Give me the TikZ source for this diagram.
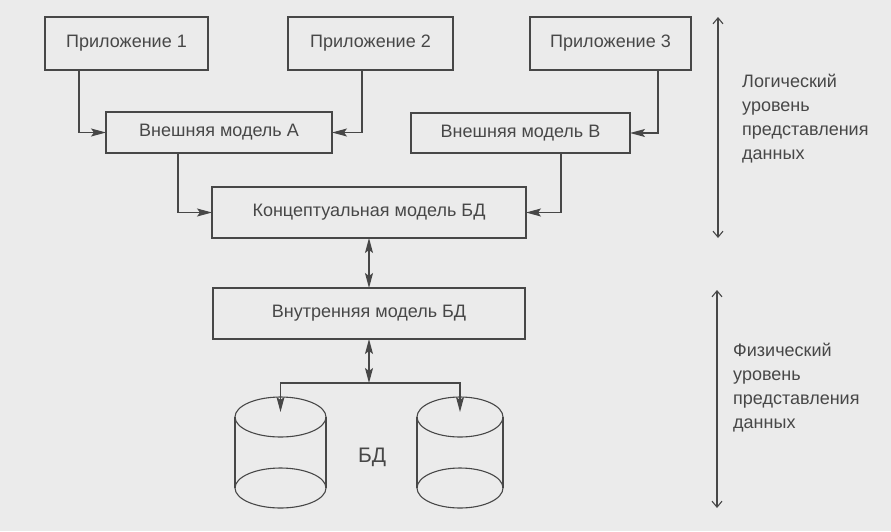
\documentclass[tikz,border=0pt]{standalone}
\usepackage{fontspec}
\setmainfont{Liberation Sans}
\usetikzlibrary{arrows.meta}
\definecolor{paper}{HTML}{EBEBEB}
\definecolor{ink}{HTML}{474747}
\begin{document}
\begin{tikzpicture}[x=1pt,y=-1pt,
    box/.style={draw=ink,line width=1.1pt,inner sep=0pt,outer sep=0pt,text=ink,font=\fontsize{18}{21}\selectfont},
    arr/.style={draw=ink,line width=1.1pt,-{Stealth[length=15pt,width=8pt,inset=3pt]}},
    darr/.style={draw=ink,line width=1.1pt,{Stealth[length=15pt,width=8pt,inset=3pt]}-{Stealth[length=15pt,width=8pt,inset=3pt]}},
    lvl/.style={draw=ink,line width=1.1pt,{Straight Barb[length=6pt,width=10pt]}-{Straight Barb[length=6pt,width=10pt]}},
    note/.style={text=ink,align=left,anchor=west,inner sep=0pt,font=\fontsize{18}{24}\selectfont}]
  \fill[paper] (0,0) rectangle (891,531);
  \draw
    (126.5,43.5) node[box,minimum width=163,minimum height=53] (p1){Приложение 1}
    (370.5,43.5) node[box,minimum width=165,minimum height=53] (p2){Приложение 2}
    (610.5,43.5) node[box,minimum width=161,minimum height=53] (p3){Приложение 3}
    (219,132.5) node[box,minimum width=226,minimum height=41] (ea){Внешняя модель А}
    (520.5,133) node[box,minimum width=219,minimum height=40] (eb){Внешняя модель B}
    (369,212.5) node[box,minimum width=314,minimum height=51] (c){Концептуальная модель БД}
    (369,313.5) node[box,minimum width=312,minimum height=51] (i){Внутренняя модель БД};
  \coordinate (j) at (369,383);
  \coordinate (d1) at (280.5,412);
  \coordinate (d2) at (460,412);
  \begin{scope}[arr]
    \draw ([xshift=34]p1.south west) |- (ea.west);
    \draw ([xshift=-91]p2.south east) |- (ea.east);
    \draw ([xshift=-33]p3.south east) |- (eb.east);
    \draw ([xshift=72]ea.south west) |- (c.west);
    \draw ([xshift=-69]eb.south east) |- (c.east);
    \draw (j) -| (d1);
    \draw (j) -| (d2);
  \end{scope}
  \draw[darr] (c.south) to (i.north);
  \draw[darr] (i.south) to (j);
  % cylinders
  \begin{scope}[draw=ink,line width=1.1pt]
    \draw (280.5,417) ellipse [x radius=45.5,y radius=20];
    \draw (280.5,488) ellipse [x radius=45.5,y radius=20];
    \draw (235,417) -- (235,488) (326,417) -- (326,488);
    \draw (460,417) ellipse [x radius=43,y radius=20];
    \draw (460,488) ellipse [x radius=43,y radius=20];
    \draw (417,417) -- (417,488) (503,417) -- (503,488);
  \end{scope}
  \node[text=ink,font=\fontsize{21}{24}\selectfont] (db) at (372,457) {БД};
  % levels
  \coordinate (l1) at (718,17);
  \coordinate (l2) at (718,238);
  \coordinate (f1) at (717,290);
  \coordinate (f2) at (717,508);
  \draw[lvl] (l1) -- (l2);
  \draw[lvl] (f1) -- (f2);
  \node[note] (lt) at (742,119) {Логический\\уровень\\представления\\данных};
  \node[note] (ft) at (733,388) {Физический\\уровень\\представления\\данных};
\end{tikzpicture}
\end{document}
